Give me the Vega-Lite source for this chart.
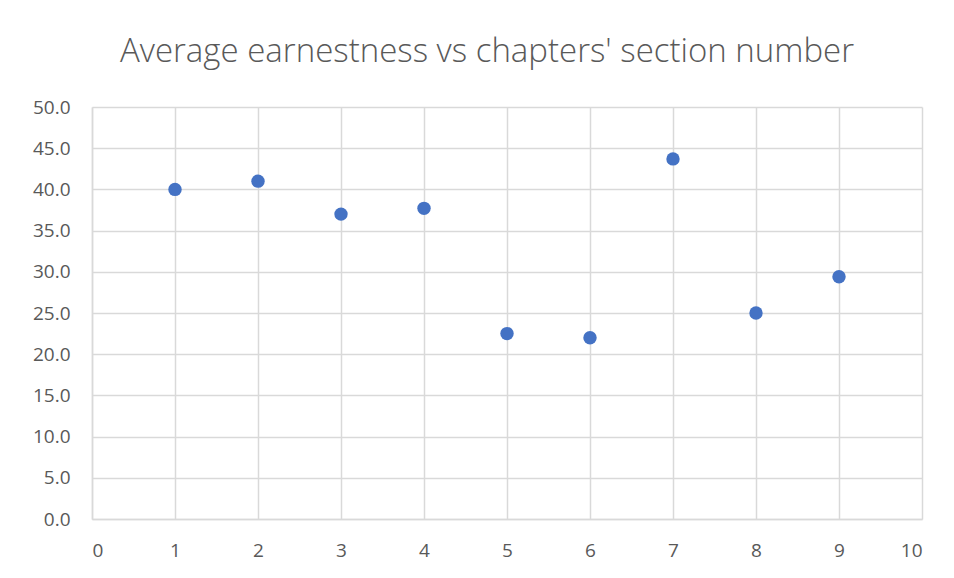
{
  "$schema": "https://vega.github.io/schema/vega-lite/v6.json",
  "width": 830,
  "height": 412,
  "autosize": {"type": "none"},
  "padding": {"left": 92, "top": 107, "right": 32, "bottom": 59},
  "background": "white",
  "title": {
    "text": "Average earnestness vs chapters' section number",
    "font": "Open Sans",
    "fontSize": 33,
    "fontWeight": 300,
    "color": "#595959",
    "anchor": "middle",
    "dx": -20,
    "offset": 29
  },
  "data": {
    "values": [
      {"section": 1, "earnestness": 40.0},
      {"section": 2, "earnestness": 41.0},
      {"section": 3, "earnestness": 37.0},
      {"section": 4, "earnestness": 37.7},
      {"section": 5, "earnestness": 22.5},
      {"section": 6, "earnestness": 22.0},
      {"section": 7, "earnestness": 43.7},
      {"section": 8, "earnestness": 25.0},
      {"section": 9, "earnestness": 29.4}
    ]
  },
  "mark": {"type": "point", "filled": true, "shape": "circle", "size": 180, "color": "#4472C4", "opacity": 1},
  "encoding": {
    "x": {
      "field": "section",
      "type": "quantitative",
      "scale": {"domain": [0, 10], "nice": false, "zero": true},
      "axis": {"values": [0,1,2,3,4,5,6,7,8,9,10], "format": "d", "title": null, "labelPadding": 22}
    },
    "y": {
      "field": "earnestness",
      "type": "quantitative",
      "scale": {"domain": [0, 50], "nice": false},
      "axis": {"values": [0,5,10,15,20,25,30,35,40,45,50], "format": ".1f", "title": null, "labelPadding": 22}
    }
  },
  "config": {
    "view": {"stroke": null},
    "axis": {
      "grid": true,
      "gridColor": "#d9d9d9",
      "gridWidth": 1.5,
      "domainColor": "#d9d9d9",
      "domainWidth": 1.5,
      "ticks": false,
      "labelFont": "Open Sans",
      "labelFontSize": 19,
      "labelColor": "#595959"
    }
  }
}
